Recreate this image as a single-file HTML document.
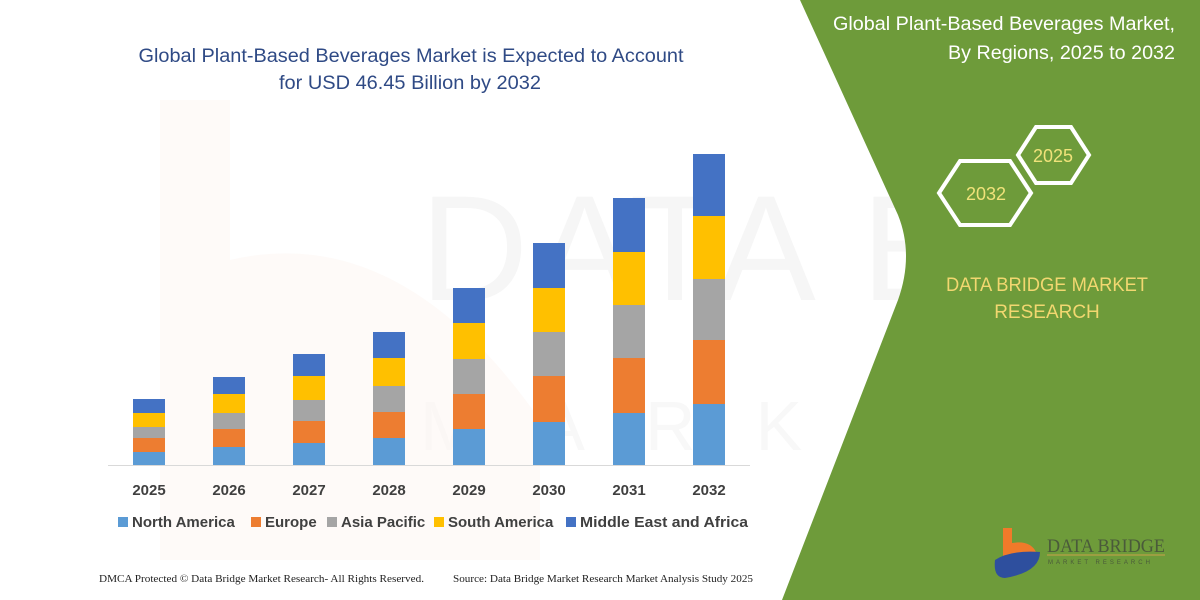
<!DOCTYPE html>
<html><head><meta charset="utf-8"><style>
html,body{margin:0;padding:0;background:#fff}
svg{display:block}
text{font-family:"Liberation Sans",sans-serif}
</style></head><body>
<svg width="1200" height="600" viewBox="0 0 1200 600" xmlns="http://www.w3.org/2000/svg">
<rect width="1200" height="600" fill="#fff"/>
<!-- faint watermark -->
<text x="420" y="300" font-size="150" fill="#f6f6f6" letter-spacing="6">DATA BRIDGE</text>
<text x="420" y="450" font-size="70" fill="#f8f8f8" letter-spacing="60">MARKET RESEAR</text>
<path d="M160,100 L230,100 L230,260 Q400,220 540,420 L540,560 L160,560 Z" fill="#fef7f3" opacity="0.6"/>
<!-- green panel -->
<path d="M800,0 L1200,0 L1200,600 L782,600 L898,300 Q914,255 898,215 Z" fill="#6e9b3a"/>
<!-- title -->
<text x="411" y="62" font-size="19" fill="#2f4a85" text-anchor="middle" textLength="545" lengthAdjust="spacingAndGlyphs">Global Plant-Based Beverages Market is Expected to Account</text>
<text x="410" y="89" font-size="19" fill="#2f4a85" text-anchor="middle" textLength="262" lengthAdjust="spacingAndGlyphs">for USD 46.45 Billion by 2032</text>
<!-- axis -->
<line x1="108" y1="465.5" x2="750" y2="465.5" stroke="#d9d9d9" stroke-width="1"/>
<!-- bars -->
<g>
<rect x="133" y="452" width="32" height="13" fill="#5b9bd5"/><rect x="133" y="438" width="32" height="14" fill="#ed7d31"/><rect x="133" y="427" width="32" height="11" fill="#a5a5a5"/><rect x="133" y="413" width="32" height="14" fill="#ffc000"/><rect x="133" y="399" width="32" height="14" fill="#4472c4"/>
<rect x="213" y="447" width="32" height="18" fill="#5b9bd5"/><rect x="213" y="429" width="32" height="18" fill="#ed7d31"/><rect x="213" y="413" width="32" height="16" fill="#a5a5a5"/><rect x="213" y="394" width="32" height="19" fill="#ffc000"/><rect x="213" y="377" width="32" height="17" fill="#4472c4"/>
<rect x="293" y="443" width="32" height="22" fill="#5b9bd5"/><rect x="293" y="421" width="32" height="22" fill="#ed7d31"/><rect x="293" y="400" width="32" height="21" fill="#a5a5a5"/><rect x="293" y="376" width="32" height="24" fill="#ffc000"/><rect x="293" y="354" width="32" height="22" fill="#4472c4"/>
<rect x="373" y="438" width="32" height="27" fill="#5b9bd5"/><rect x="373" y="412" width="32" height="26" fill="#ed7d31"/><rect x="373" y="386" width="32" height="26" fill="#a5a5a5"/><rect x="373" y="358" width="32" height="28" fill="#ffc000"/><rect x="373" y="332" width="32" height="26" fill="#4472c4"/>
<rect x="453" y="429" width="32" height="36" fill="#5b9bd5"/><rect x="453" y="394" width="32" height="35" fill="#ed7d31"/><rect x="453" y="359" width="32" height="35" fill="#a5a5a5"/><rect x="453" y="323" width="32" height="36" fill="#ffc000"/><rect x="453" y="288" width="32" height="35" fill="#4472c4"/>
<rect x="533" y="422" width="32" height="43" fill="#5b9bd5"/><rect x="533" y="376" width="32" height="46" fill="#ed7d31"/><rect x="533" y="332" width="32" height="44" fill="#a5a5a5"/><rect x="533" y="288" width="32" height="44" fill="#ffc000"/><rect x="533" y="243" width="32" height="45" fill="#4472c4"/>
<rect x="613" y="413" width="32" height="52" fill="#5b9bd5"/><rect x="613" y="358" width="32" height="55" fill="#ed7d31"/><rect x="613" y="305" width="32" height="53" fill="#a5a5a5"/><rect x="613" y="252" width="32" height="53" fill="#ffc000"/><rect x="613" y="198" width="32" height="54" fill="#4472c4"/>
<rect x="693" y="404" width="32" height="61" fill="#5b9bd5"/><rect x="693" y="340" width="32" height="64" fill="#ed7d31"/><rect x="693" y="279" width="32" height="61" fill="#a5a5a5"/><rect x="693" y="216" width="32" height="63" fill="#ffc000"/><rect x="693" y="154" width="32" height="62" fill="#4472c4"/>
</g>
<!-- year labels -->
<g font-size="15" font-weight="bold" fill="#404040" text-anchor="middle">
<text x="149" y="495">2025</text><text x="229" y="495">2026</text><text x="309" y="495">2027</text><text x="389" y="495">2028</text>
<text x="469" y="495">2029</text><text x="549" y="495">2030</text><text x="629" y="495">2031</text><text x="709" y="495">2032</text>
</g>
<!-- legend -->
<g font-size="15" font-weight="bold" fill="#404040">
<rect x="118" y="517" width="10" height="10" fill="#5b9bd5"/><text x="132" y="527">North America</text>
<rect x="251" y="517" width="10" height="10" fill="#ed7d31"/><text x="265" y="527">Europe</text>
<rect x="327" y="517" width="10" height="10" fill="#a5a5a5"/><text x="341" y="527">Asia Pacific</text>
<rect x="434" y="517" width="10" height="10" fill="#ffc000"/><text x="448" y="527">South America</text>
<rect x="566" y="517" width="10" height="10" fill="#4472c4"/><text x="580" y="527" textLength="168" lengthAdjust="spacingAndGlyphs">Middle East and Africa</text>
</g>
<!-- footer -->
<text x="99" y="582" font-size="10" fill="#222" style="font-family:'Liberation Serif',serif" textLength="325" lengthAdjust="spacingAndGlyphs">DMCA Protected © Data Bridge Market Research- All Rights Reserved.</text>
<text x="453" y="582" font-size="10" fill="#222" style="font-family:'Liberation Serif',serif" textLength="300" lengthAdjust="spacingAndGlyphs">Source: Data Bridge Market Research Market Analysis Study 2025</text>
<!-- right panel text -->
<text x="1175" y="30" font-size="19" fill="#fff" text-anchor="end" textLength="342" lengthAdjust="spacingAndGlyphs">Global Plant-Based Beverages Market,</text>
<text x="1175" y="59" font-size="19" fill="#fff" text-anchor="end" textLength="227" lengthAdjust="spacingAndGlyphs">By Regions, 2025 to 2032</text>
<polygon points="1018,155 1036,127 1071,127 1089,155 1071,183 1036,183" fill="none" stroke="#fff" stroke-width="4"/>
<text x="1053" y="162" font-size="18" fill="#f0e27a" text-anchor="middle">2025</text>
<polygon points="939,193 960,161 1010,161 1031,193 1010,225 960,225" fill="none" stroke="#fff" stroke-width="4"/>
<text x="986" y="200" font-size="18" fill="#f0e27a" text-anchor="middle">2032</text>
<text x="1047" y="291" font-size="19" fill="#f2d770" text-anchor="middle" textLength="202" lengthAdjust="spacingAndGlyphs">DATA BRIDGE MARKET</text>
<text x="1047" y="318" font-size="19" fill="#f2d770" text-anchor="middle">RESEARCH</text>
<!-- logo -->
<path d="M1003,528 L1012,528 L1012,543 Q1030,540 1036,552 L1003,556 Z" fill="#f07a2a"/>
<path d="M995,560 Q1010,550 1040,552 Q1040,572 1005,578 Q993,578 995,560 Z" fill="#2e4f9e"/>
<text x="1047" y="552" font-size="19" fill="#4a5a3a" style="font-family:'Liberation Serif',serif" textLength="118" lengthAdjust="spacingAndGlyphs">DATA BRIDGE</text>
<line x1="1047" y1="555" x2="1165" y2="555" stroke="#c9a14a" stroke-width="1"/>
<text x="1048" y="564" font-size="6" fill="#4a5a3a" letter-spacing="3">MARKET RESEARCH</text>
</svg>
</body></html>
